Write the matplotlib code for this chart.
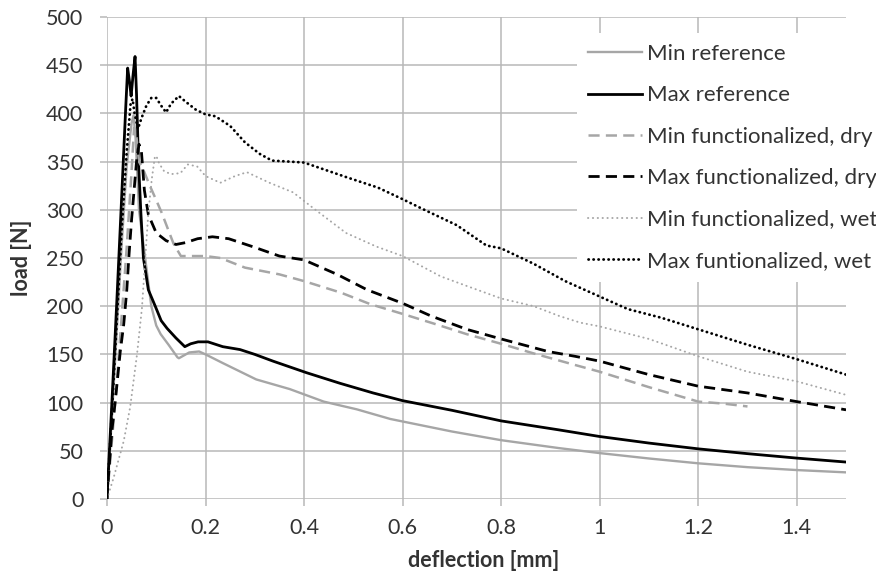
import matplotlib
matplotlib.use("Agg")
import matplotlib.pyplot as plt
from matplotlib.lines import Line2D

# load-deflection curves (deflection in mm, load in N)
min_ref_x = [0, 0.01, 0.02, 0.03, 0.04, 0.05, 0.054, 0.058, 0.065, 0.08, 0.09, 0.1, 0.109, 0.125, 0.143,
             0.146, 0.167, 0.187, 0.2, 0.235, 0.303, 0.371, 0.44, 0.507, 0.575, 0.7, 0.8, 0.917, 1.0,
             1.1, 1.2, 1.3, 1.4, 1.5]
min_ref_y = [0, 85, 175, 265, 345, 390, 398, 375, 300, 240, 200, 180, 171, 160, 147,
             146, 152, 153, 150, 141, 124, 114, 101, 93, 83, 70, 61, 52.8, 47.6,
             42, 37, 33, 30, 27.6]

max_ref_x = [0, 0.01, 0.02, 0.03, 0.038, 0.042, 0.046, 0.049, 0.053, 0.057, 0.06, 0.064, 0.069, 0.074,
             0.084, 0.098, 0.11, 0.122, 0.14, 0.158, 0.17, 0.185, 0.205, 0.235, 0.27, 0.3, 0.337, 0.405,
             0.473, 0.54, 0.6, 0.7, 0.8, 0.917, 1.0, 1.1, 1.2, 1.3, 1.4, 1.5]
max_ref_y = [0, 100, 205, 315, 405, 447, 432, 418, 440, 459, 420, 350, 295, 250,
             217, 200, 185, 177, 167, 158, 161, 163, 163, 158, 155, 150, 143, 131,
             120, 110, 102, 92, 81, 71.7, 64.8, 58, 52, 47, 42.4, 38.3]

min_dry_x = [0, 0.01, 0.02, 0.03, 0.04, 0.05, 0.055, 0.06, 0.065, 0.075, 0.087, 0.1, 0.111, 0.12, 0.135,
             0.15, 0.17, 0.2, 0.23, 0.28, 0.35, 0.4, 0.475, 0.535, 0.6, 0.663, 0.73, 0.8, 0.866, 0.95,
             1.0, 1.1, 1.2, 1.25, 1.3]
min_dry_y = [0, 60, 120, 190, 260, 340, 385, 375, 350, 340, 325, 310, 297, 285, 265,
             252, 252, 252, 250, 240, 233, 226, 214, 202, 192, 182, 171, 161, 151, 139,
             132, 116, 101, 99, 96]

max_dry_x = [0, 0.0034, 0.01, 0.017, 0.027, 0.034, 0.04, 0.045, 0.05, 0.055, 0.06, 0.065, 0.07, 0.076,
             0.084, 0.1, 0.12, 0.14, 0.16, 0.184, 0.214, 0.247, 0.3, 0.35, 0.4, 0.467, 0.528, 0.6, 0.657,
             0.73, 0.8, 0.895, 0.95, 1.0, 1.1, 1.2, 1.3, 1.4, 1.5]
max_dry_y = [0, 26, 71, 102, 153, 181, 215, 255, 290, 320, 350, 368, 360, 320,
             295, 276, 268, 264, 266, 270, 272, 270, 261, 252, 248, 233, 217, 203, 190,
             176, 166, 153, 148, 143, 129, 117, 110, 101, 92.5]

min_wet_x = [0, 0.0135, 0.034, 0.047, 0.061, 0.071, 0.078, 0.084, 0.091, 0.097, 0.1, 0.106, 0.116, 0.13,
             0.149, 0.164, 0.183, 0.2, 0.23, 0.26, 0.284, 0.33, 0.378, 0.418, 0.485, 0.546, 0.6, 0.677,
             0.73, 0.8, 0.866, 0.917, 0.96, 1.0, 1.1, 1.2, 1.3, 1.4, 1.5]
min_wet_y = [0, 22, 60, 95, 150, 198, 252, 297, 332, 354, 356, 348, 340, 337,
             338, 347, 345, 335, 328, 335, 339, 328, 318, 302, 276, 262, 252, 231,
             221, 208, 200, 190, 183, 179, 166, 148, 132, 122, 108]

max_wet_x = [0, 0.01, 0.02, 0.03, 0.04, 0.048, 0.052, 0.056, 0.063, 0.07, 0.08, 0.09, 0.1, 0.11, 0.12,
             0.13, 0.146, 0.16, 0.18, 0.2, 0.22, 0.25, 0.28, 0.31, 0.335, 0.37, 0.4, 0.485, 0.55, 0.6,
             0.64, 0.71, 0.77, 0.8, 0.866, 0.93, 1.0, 1.057, 1.125, 1.2, 1.3, 1.4, 1.5]
max_wet_y = [0, 90, 185, 280, 360, 410, 415, 400, 384, 395, 408, 416, 416, 408, 401,
             410, 418, 412, 404, 399, 397, 387, 370, 358, 351, 350, 349, 334, 323, 311,
             301, 284, 263, 260, 244, 226, 210, 197, 188, 176, 160, 145, 129]

labels = ["Min reference", "Max reference", "Min functionalized, dry",
          "Max functionalized, dry", "Min functionalized, wet", "Max funtionalized, wet"]

GRAY = "#a6a6a6"
GRID = "#b8b8b8"
TEXT = "#333333"
FS = 16

plt.rcParams["font.family"] = ["Lato", "DejaVu Sans"]
plt.rcParams["lines.scale_dashes"] = False

fig = plt.figure(figsize=(8.76, 5.8), dpi=100)
ax = fig.add_axes([0.1221, 0.1397, 0.8437, 0.831])

styles = [
    dict(color=GRAY, lw=1.7, ls="-"),
    dict(color="black", lw=2.0, ls="-"),
    dict(color=GRAY, lw=1.8, dashes=(8.0, 4.5)),
    dict(color="black", lw=2.0, dashes=(8.0, 4.5)),
    dict(color=GRAY, lw=1.4, dashes=(0.2, 3.3), dash_capstyle="round"),
    dict(color="black", lw=2.0, dashes=(0.2, 3.4), dash_capstyle="round"),
]
series = [(min_ref_x, min_ref_y), (max_ref_x, max_ref_y), (min_dry_x, min_dry_y),
          (max_dry_x, max_dry_y), (min_wet_x, min_wet_y), (max_wet_x, max_wet_y)]

for (xs, ys), st in zip(series, styles):
    ax.plot(xs, ys, **st)

ax.set_xlim(0, 1.5)
ax.set_ylim(0, 500)
ax.set_xticks([0, 0.2, 0.4, 0.6, 0.8, 1.0, 1.2, 1.4])
ax.set_xticklabels(["0", "0.2", "0.4", "0.6", "0.8", "1", "1.2", "1.4"])
ax.set_yticks(range(0, 501, 50))
ax.grid(True, color=GRID, lw=1.1)
ax.set_axisbelow(True)
for s in ax.spines.values():
    s.set_visible(False)
ax.tick_params(axis="both", colors=GRID, length=5, width=1.1, labelsize=FS - 0.5,
               labelcolor=TEXT)
ax.tick_params(axis="x", pad=9)
ax.tick_params(axis="y", pad=12)

ax.set_xlabel("deflection [mm]", fontsize=FS - 0.5, fontweight="bold", color=TEXT)
ax.set_ylabel("load [N]", fontsize=FS - 0.5, fontweight="bold", color=TEXT)
ax.xaxis.label.set_verticalalignment("center")
ax.yaxis.label.set_verticalalignment("center")
ax.xaxis.set_label_coords(0.51, -0.1275)
ax.yaxis.set_label_coords(-0.115, 0.5)

handles = [Line2D([], [], **st) for st in styles]
leg = fig.legend(handles, labels, loc="upper left", bbox_to_anchor=(577 / 876, 1 - 33 / 580),
                 frameon=True, facecolor="white", edgecolor="none", framealpha=1, fancybox=False,
                 fontsize=FS, handlelength=2.43, handletextpad=0.23, labelspacing=0.96,
                 borderpad=0.5, borderaxespad=0)
for t in leg.get_texts():
    t.set_color(TEXT)

fig.savefig("out.png", dpi=100)
